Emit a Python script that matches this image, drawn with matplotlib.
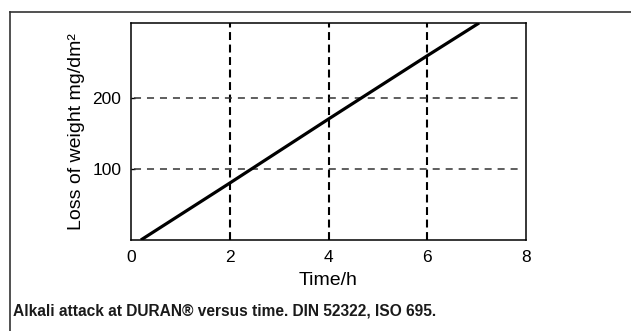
import matplotlib
matplotlib.use("Agg")
import matplotlib.pyplot as plt
from matplotlib.lines import Line2D

time_h = [0.2, 2.0, 4.0, 6.0, 7.05]
loss_mg_dm2 = [0, 80, 170, 259, 305]
x_ticks = [0, 2, 4, 6, 8]
y_ticks = [100, 200]
caption = "Alkali attack at DURAN\u00ae versus time. DIN 52322, ISO 695."

W, H = 631, 331
fig = plt.figure(figsize=(W / 100, H / 100), dpi=100)

ax = fig.add_axes([131 / W, (H - 240) / H, 395 / W, 217 / H])
ax.plot(time_h, loss_mg_dm2, color="black", lw=2.3, solid_capstyle="butt", zorder=3)
ax.set_xlim(0, 8)
ax.set_ylim(0, 305)
ax.set_xticks(x_ticks)
ax.set_yticks(y_ticks)
for v in [2, 4, 6]:
    ax.axvline(v, color="black", lw=1.5, dashes=(3.8, 2.2))
for v in y_ticks:
    ax.axhline(v, color="#333333", lw=1.1, dashes=(4.6, 3.9), xmin=0.008, xmax=0.985)
for s in ax.spines.values():
    s.set_linewidth(1.1)
ax.tick_params(axis="x", length=0, pad=7, labelsize=12.5)
ax.tick_params(axis="y", length=3, width=1, pad=7, labelsize=12.5, direction="in")
for lab in ax.get_xticklabels() + ax.get_yticklabels():
    lab.set_fontfamily("Liberation Sans")
ax.set_xlabel("Time/h", fontsize=14, family="Liberation Sans", labelpad=5)
ax.set_ylabel("Loss of weight mg/dm\u00b2", fontsize=14, family="Liberation Sans", labelpad=5)

# outer frame (open at right/bottom)
fig.add_artist(Line2D([10 / W, 10 / W], [0, (H - 12) / H], color="#333333", lw=1.2, transform=fig.transFigure))
fig.add_artist(Line2D([10 / W, 1], [(H - 12) / H, (H - 12) / H], color="#333333", lw=1.2, transform=fig.transFigure))

fig.text(13 / W, (H - 311) / H, caption, fontsize=11.2, fontweight="bold", family="Liberation Sans",
         va="center", ha="left", color="#1a1a1a")

fig.savefig("out.png", dpi=100)
